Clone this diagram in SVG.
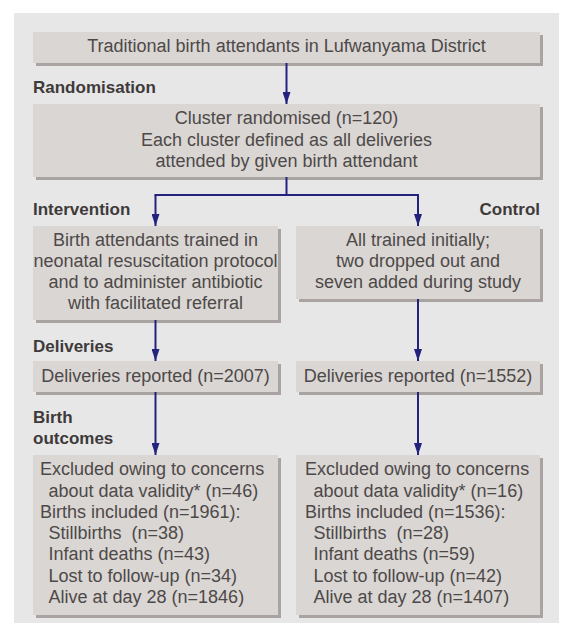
<svg xmlns="http://www.w3.org/2000/svg" width="563" height="625" viewBox="0 0 563 625">
<defs>
<style>
.panel{fill:#e7e7e7}
.box{fill:#dad6d3}
.shadow{fill:#a9a4a1}
.t{font-family:"Liberation Sans",Arial,sans-serif;font-size:18px;fill:#4d4949}
.c{text-anchor:middle}
.lab{font-family:"Liberation Sans",Arial,sans-serif;font-size:17px;font-weight:bold;fill:#3e3a3a}
.ln{fill:none;stroke:#23237e;stroke-width:2}
.pre{white-space:pre}
</style>
<marker id="ah" markerUnits="userSpaceOnUse" markerWidth="12" markerHeight="8" refX="12" refY="4" orient="auto">
<path d="M0,0 L12,4 L0,8 z" fill="#23237e"/>
</marker>
</defs>
<rect class="panel" x="14" y="13" width="545" height="610"/>

<g id="labels">
<text class="lab" x="33" y="93">Randomisation</text>
<text class="lab" x="33" y="215">Intervention</text>
<text class="lab" x="540" y="215" text-anchor="end">Control</text>
<text class="lab" x="33" y="352">Deliveries</text>
<text class="lab" x="33" y="423">Birth</text>
<text class="lab" x="33" y="444">outcomes</text>
</g>

<g id="n_top">
<rect class="shadow" x="36" y="35" width="507" height="31"/>
<rect class="box" x="33" y="32" width="507" height="31"/>
<text class="t c" x="286.5" y="52">Traditional birth attendants in Lufwanyama District</text>
</g>

<g id="n_random">
<rect class="shadow" x="36" y="107" width="507" height="73"/>
<rect class="box" x="33" y="104" width="507" height="73"/>
<text class="t c" x="286.5" y="124">Cluster randomised (n=120)</text>
<text class="t c" x="286.5" y="145.5">Each cluster defined as all deliveries</text>
<text class="t c" x="286.5" y="166.5">attended by given birth attendant</text>
</g>

<g id="n_interv">
<rect class="shadow" x="36" y="229" width="245" height="94"/>
<rect class="box" x="33" y="226" width="245" height="94"/>
<text class="t c" x="155.5" y="246">Birth attendants trained in</text>
<text class="t c" x="155.5" y="267">neonatal resuscitation protocol</text>
<text class="t c" x="155.5" y="288">and to administer antibiotic</text>
<text class="t c" x="155.5" y="309">with facilitated referral</text>
</g>

<g id="n_control">
<rect class="shadow" x="299" y="229" width="244" height="73"/>
<rect class="box" x="296" y="226" width="244" height="73"/>
<text class="t c" x="418" y="246">All trained initially;</text>
<text class="t c" x="418" y="267">two dropped out and</text>
<text class="t c" x="418" y="288">seven added during study</text>
</g>

<g id="n_del_i">
<rect class="shadow" x="36" y="364" width="245" height="31"/>
<rect class="box" x="33" y="361" width="245" height="31"/>
<text class="t c" x="155.5" y="382">Deliveries reported (n=2007)</text>
</g>

<g id="n_del_c">
<rect class="shadow" x="299" y="364" width="244" height="31"/>
<rect class="box" x="296" y="361" width="244" height="31"/>
<text class="t c" x="418" y="382">Deliveries reported (n=1552)</text>
</g>

<g id="n_out_i">
<rect class="shadow" x="36" y="458" width="245" height="160"/>
<rect class="box" x="33" y="455" width="245" height="160"/>
<text class="t" x="40" y="475">Excluded owing to concerns</text>
<text class="t" x="48.5" y="496.5">about data validity* (n=46)</text>
<text class="t" x="40" y="517.5">Births included (n=1961):</text>
<text class="t pre" x="48.5" y="539">Stillbirths  (n=38)</text>
<text class="t" x="48.5" y="560">Infant deaths (n=43)</text>
<text class="t" x="48.5" y="581.5">Lost to follow-up (n=34)</text>
<text class="t" x="48.5" y="603">Alive at day 28 (n=1846)</text>
</g>

<g id="n_out_c">
<rect class="shadow" x="299" y="458" width="244" height="160"/>
<rect class="box" x="296" y="455" width="244" height="160"/>
<text class="t" x="305" y="475">Excluded owing to concerns</text>
<text class="t" x="313.5" y="496.5">about data validity* (n=16)</text>
<text class="t" x="305" y="517.5">Births included (n=1536):</text>
<text class="t pre" x="313.5" y="539">Stillbirths  (n=28)</text>
<text class="t" x="313.5" y="560">Infant deaths (n=59)</text>
<text class="t" x="313.5" y="581.5">Lost to follow-up (n=42)</text>
<text class="t" x="313.5" y="603">Alive at day 28 (n=1407)</text>
</g>

<g id="connectors">
<line class="ln" x1="286.5" y1="63" x2="286.5" y2="104" marker-end="url(#ah)"/>
<line class="ln" x1="286.5" y1="177" x2="286.5" y2="195"/>
<line class="ln" x1="154.5" y1="195" x2="419" y2="195"/>
<line class="ln" x1="155.5" y1="195" x2="155.5" y2="226" marker-end="url(#ah)"/>
<line class="ln" x1="418" y1="195" x2="418" y2="226" marker-end="url(#ah)"/>
<line class="ln" x1="155.5" y1="320" x2="155.5" y2="361" marker-end="url(#ah)"/>
<line class="ln" x1="418" y1="299" x2="418" y2="361" marker-end="url(#ah)"/>
<line class="ln" x1="155.5" y1="392" x2="155.5" y2="455" marker-end="url(#ah)"/>
<line class="ln" x1="418" y1="392" x2="418" y2="455" marker-end="url(#ah)"/>
</g>
</svg>
